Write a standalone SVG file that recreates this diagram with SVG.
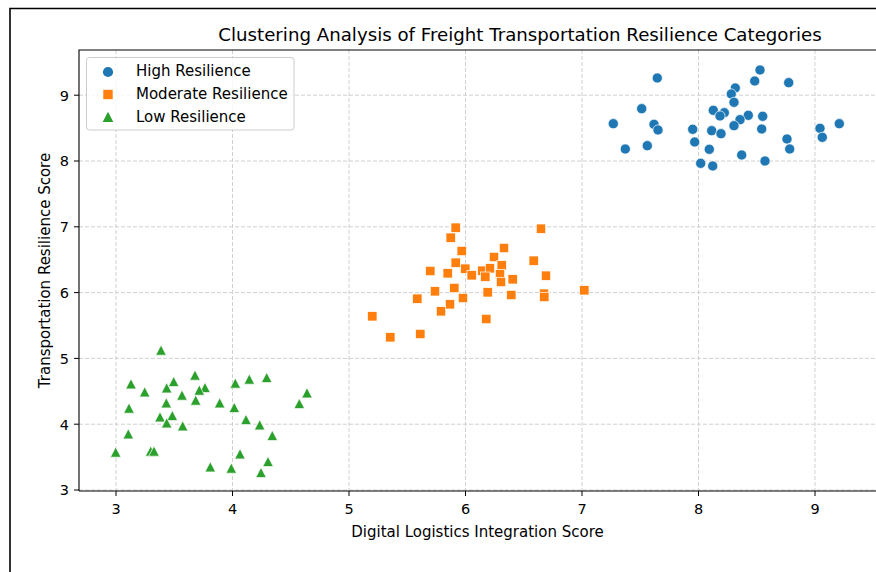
<svg xmlns="http://www.w3.org/2000/svg" width="876" height="572" viewBox="0 0 876 572">
<style>
text{font-family:"DejaVu Sans","Liberation Sans",sans-serif;fill:#000}
.grid{stroke:#d0d0d0;stroke-width:1;stroke-dasharray:4,2;fill:none}
.spine{stroke:#000;stroke-width:1.1;fill:none}
.tick{stroke:#000;stroke-width:1}
.tl{font-size:14.5px}
.lab{font-size:15px}
.c{fill:#1f77b4;stroke:#fff;stroke-width:0.7}
.s{fill:#ff7f0e;stroke:#fff;stroke-width:0.7}
.t{fill:#2ca02c;stroke:#fff;stroke-width:0.7}
</style>
<defs>
<circle id="mc" r="5.1"/>
<rect id="ms" x="-4.7" y="-4.7" width="9.4" height="9.4"/>
<polygon id="mt" points="0,-5.3 -5.3,4.9 5.3,4.9"/>
</defs>
<rect width="876" height="572" fill="#fff"/>
<path d="M10,572 V8.5 H876" fill="none" stroke="#000" stroke-width="1.6"/>
<text x="520" y="41" font-size="18.2px" text-anchor="middle">Clustering Analysis of Freight Transportation Resilience Categories</text>
<g id="grid">
<path class="grid" d="M116,50V491M232.5,50V491M349,50V491M465.5,50V491M582,50V491M698.5,50V491M815,50V491"/>
<path class="grid" d="M79,95.2H876M79,161H876M79,226.8H876M79,292.6H876M79,358.4H876M79,424.2H876M79,490H876"/>
</g>
<g id="axes">
<path class="spine" d="M79,491V50H876M79,491H876"/>
<path class="tick" d="M116,491v5M232.5,491v5M349,491v5M465.5,491v5M582,491v5M698.5,491v5M815,491v5"/>
<path class="tick" d="M74,95.2h5M74,161h5M74,226.8h5M74,292.6h5M74,358.4h5M74,424.2h5M74,490h5"/>
<g class="tl" text-anchor="middle">
<text x="116" y="514">3</text><text x="232.5" y="514">4</text><text x="349" y="514">5</text><text x="465.5" y="514">6</text><text x="582" y="514">7</text><text x="698.5" y="514">8</text><text x="815" y="514">9</text>
</g>
<g class="tl" text-anchor="end">
<text x="69" y="100.5">9</text><text x="69" y="166.3">8</text><text x="69" y="232.1">7</text><text x="69" y="297.9">6</text><text x="69" y="363.7">5</text><text x="69" y="429.5">4</text><text x="69" y="495.3">3</text>
</g>
<text class="lab" x="477.5" y="536.5" text-anchor="middle">Digital Logistics Integration Score</text>
<text class="lab" transform="translate(50,270.5) rotate(-90)" text-anchor="middle">Transportation Resilience Score</text>
</g>
<g id="high-resilience" class="c">
<use href="#mc" x="657.3" y="78"/><use href="#mc" x="760" y="70"/><use href="#mc" x="754.7" y="81"/><use href="#mc" x="788.7" y="82.7"/><use href="#mc" x="735.3" y="88"/><use href="#mc" x="731.3" y="94"/><use href="#mc" x="734" y="102.3"/><use href="#mc" x="641.7" y="108.7"/><use href="#mc" x="713.3" y="110.3"/><use href="#mc" x="724.3" y="112.7"/><use href="#mc" x="720" y="116"/><use href="#mc" x="748.3" y="115.3"/><use href="#mc" x="762.7" y="116.3"/><use href="#mc" x="740" y="119.7"/><use href="#mc" x="734" y="125.7"/><use href="#mc" x="613.3" y="123.7"/><use href="#mc" x="654" y="124.3"/><use href="#mc" x="658" y="130"/><use href="#mc" x="839.3" y="123.7"/><use href="#mc" x="692.7" y="129.3"/><use href="#mc" x="711.7" y="130.7"/><use href="#mc" x="721" y="133.7"/><use href="#mc" x="761.7" y="129"/><use href="#mc" x="820" y="128.3"/><use href="#mc" x="822.3" y="137.3"/><use href="#mc" x="694.7" y="142"/><use href="#mc" x="787" y="139"/><use href="#mc" x="647.3" y="145.7"/><use href="#mc" x="625.3" y="149"/><use href="#mc" x="709.3" y="149.3"/><use href="#mc" x="789.7" y="149"/><use href="#mc" x="741.7" y="155"/><use href="#mc" x="700.7" y="163.3"/><use href="#mc" x="712.7" y="166"/><use href="#mc" x="765" y="161"/>
</g>
<g id="moderate-resilience" class="s">
<use href="#ms" x="455.7" y="227.7"/><use href="#ms" x="541" y="228.7"/><use href="#ms" x="450.7" y="237.7"/><use href="#ms" x="461.7" y="251"/><use href="#ms" x="504" y="248"/><use href="#ms" x="494" y="257"/><use href="#ms" x="533.7" y="260.7"/><use href="#ms" x="455.7" y="262.7"/><use href="#ms" x="501.7" y="265.3"/><use href="#ms" x="430.3" y="271"/><use href="#ms" x="447.7" y="273.3"/><use href="#ms" x="465.3" y="268.7"/><use href="#ms" x="471.7" y="275.3"/><use href="#ms" x="482.3" y="270.7"/><use href="#ms" x="490" y="268.3"/><use href="#ms" x="485.3" y="276.7"/><use href="#ms" x="500" y="274.3"/><use href="#ms" x="501" y="282"/><use href="#ms" x="512.7" y="279.3"/><use href="#ms" x="546" y="275.7"/><use href="#ms" x="454.3" y="288"/><use href="#ms" x="435" y="291.3"/><use href="#ms" x="463" y="298"/><use href="#ms" x="487.7" y="292.3"/><use href="#ms" x="511.3" y="295"/><use href="#ms" x="544" y="293.7"/><use href="#ms" x="544.3" y="297"/><use href="#ms" x="584.3" y="290.3"/><use href="#ms" x="417.3" y="298.7"/><use href="#ms" x="450" y="304.3"/><use href="#ms" x="441" y="311.3"/><use href="#ms" x="372.3" y="316.3"/><use href="#ms" x="486.3" y="319"/><use href="#ms" x="390.3" y="337.3"/><use href="#ms" x="420.3" y="334"/>
</g>
<g id="low-resilience" class="t">
<use href="#mt" x="161" y="350.3"/><use href="#mt" x="131" y="384"/><use href="#mt" x="144.7" y="392"/><use href="#mt" x="173.7" y="381.7"/><use href="#mt" x="166.7" y="388"/><use href="#mt" x="195" y="375.3"/><use href="#mt" x="205" y="387.7"/><use href="#mt" x="199.3" y="390.3"/><use href="#mt" x="182" y="395.3"/><use href="#mt" x="195.7" y="400.3"/><use href="#mt" x="166.3" y="403"/><use href="#mt" x="129" y="408.3"/><use href="#mt" x="219.7" y="403"/><use href="#mt" x="235.3" y="383.3"/><use href="#mt" x="249.3" y="379.3"/><use href="#mt" x="266.7" y="377.7"/><use href="#mt" x="307" y="393"/><use href="#mt" x="299.3" y="403.7"/><use href="#mt" x="234.3" y="407.7"/><use href="#mt" x="160" y="417"/><use href="#mt" x="172.3" y="415.7"/><use href="#mt" x="166.7" y="423"/><use href="#mt" x="182.7" y="426"/><use href="#mt" x="246" y="419.7"/><use href="#mt" x="259.7" y="425"/><use href="#mt" x="272.3" y="435.7"/><use href="#mt" x="128.3" y="434"/><use href="#mt" x="115.7" y="452.3"/><use href="#mt" x="150.7" y="451.3"/><use href="#mt" x="154" y="451.3"/><use href="#mt" x="240" y="454"/><use href="#mt" x="268" y="461.7"/><use href="#mt" x="210.3" y="467"/><use href="#mt" x="231.3" y="468.3"/><use href="#mt" x="261" y="472.7"/>
</g>
<g id="legend">
<rect x="86.5" y="57.5" width="207.5" height="72.5" rx="3" fill="#fff" fill-opacity="0.8" stroke="#cccccc" stroke-width="1"/>
<use href="#mc" x="108" y="72" fill="#1f77b4"/>
<use href="#ms" x="108" y="94.5" fill="#ff7f0e"/>
<use href="#mt" x="108" y="117" fill="#2ca02c"/>
<text class="lab" x="136" y="75.5">High Resilience</text>
<text class="lab" x="136" y="98.5">Moderate Resilience</text>
<text class="lab" x="136" y="121.5">Low Resilience</text>
</g>
</svg>
